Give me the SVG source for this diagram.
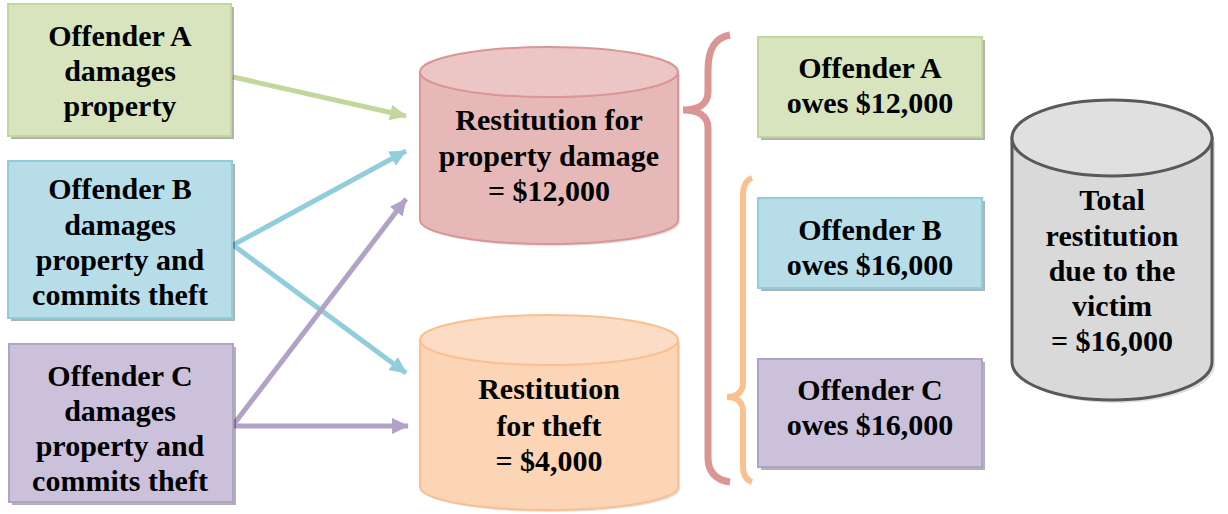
<svg xmlns="http://www.w3.org/2000/svg" width="1228" height="514" viewBox="0 0 1228 514">
<defs>
<style>
text{font-family:'Liberation Serif','Tinos','Times New Roman','DejaVu Serif',serif;font-weight:bold;font-size:30px;fill:#000;text-anchor:middle}
.sh{fill:#000;opacity:0.3}
.g{fill:#d7e4bd;stroke:#c3d69b;stroke-width:2}
.b{fill:#b7dde8;stroke:#92cddc;stroke-width:2}
.p{fill:#ccc1da;stroke:#b3a2c7;stroke-width:2}
.ln{fill:none;stroke-width:5}
</style>
<marker id="mg" markerUnits="userSpaceOnUse" markerWidth="18" markerHeight="18" refX="16" refY="9" orient="auto"><path d="M0,1 L17,9 L0,17 Z" fill="#c3d69b"/></marker>
<marker id="mb" markerUnits="userSpaceOnUse" markerWidth="18" markerHeight="18" refX="16" refY="9" orient="auto"><path d="M0,1 L17,9 L0,17 Z" fill="#92cddc"/></marker>
<marker id="mp" markerUnits="userSpaceOnUse" markerWidth="18" markerHeight="18" refX="16" refY="9" orient="auto"><path d="M0,1 L17,9 L0,17 Z" fill="#b2a2c7"/></marker>
</defs>
<rect width="1228" height="514" fill="#fff"/>

<g id="connectors">
<line class="ln" x1="233" y1="77" x2="406" y2="116" stroke="#c3d69b" marker-end="url(#mg)"/>
<line class="ln" x1="233" y1="245" x2="406" y2="151" stroke="#92cddc" marker-end="url(#mb)"/>
<line class="ln" x1="233" y1="245" x2="406" y2="373" stroke="#92cddc" marker-end="url(#mb)"/>
<line class="ln" x1="234" y1="424" x2="406" y2="199" stroke="#b2a2c7" marker-end="url(#mp)"/>
<line class="ln" x1="234" y1="426" x2="408" y2="426" stroke="#b2a2c7" marker-end="url(#mp)"/>
</g>

<g font-family="Liberation Serif, serif">
<g id="offenderA">
<rect class="sh" x="11" y="7" width="223" height="132"/>
<rect class="g" x="8" y="4" width="223" height="132"/>
<text x="120" y="46">Offender A</text>
<text x="120" y="81">damages</text>
<text x="120" y="116">property</text>
</g>

<g id="offenderB">
<rect class="sh" x="11" y="164" width="224" height="157"/>
<rect class="b" x="8" y="161" width="224" height="157"/>
<text x="120" y="199">Offender B</text>
<text x="120" y="235">damages</text>
<text x="120" y="270">property and</text>
<text x="120" y="305">commits theft</text>
</g>

<g id="offenderC">
<rect class="sh" x="12" y="347" width="224" height="158"/>
<rect class="p" x="9" y="344" width="224" height="158"/>
<text x="120" y="386">Offender C</text>
<text x="120" y="421">damages</text>
<text x="120" y="456">property and</text>
<text x="120" y="491">commits theft</text>
</g>

<g id="propertyDamage">
<path d="M422,74 L422,222 A129,24 0 0 0 680,222 L680,74 Z" fill="#000" opacity="0.12"/>
<path d="M420,72 L420,220 A129,24 0 0 0 678,220 L678,72 Z" fill="#e6b9b8" stroke="#d99694" stroke-width="2"/>
<ellipse cx="549" cy="72" rx="129" ry="25" fill="#ecc6c5" stroke="#d99694" stroke-width="2"/>
<text x="549" y="130">Restitution for</text>
<text x="549" y="166">property damage</text>
<text x="549" y="201">= $12,000</text>
</g>

<g id="theft">
<path d="M422,342 L422,489 A129,23 0 0 0 680,489 L680,342 Z" fill="#000" opacity="0.12"/>
<path d="M420,340 L420,487 A129,23 0 0 0 678,487 L678,340 Z" fill="#fbd5b5" stroke="#fac090" stroke-width="2"/>
<ellipse cx="549" cy="340" rx="129" ry="25" fill="#fcdcc4" stroke="#fac090" stroke-width="2"/>
<text x="549" y="399">Restitution</text>
<text x="549" y="436">for theft</text>
<text x="549" y="471">= $4,000</text>
</g>

<g id="braces">
<path d="M730,35 C714,38 708,50 708,70 L708,92 C708,104 698,110 683,110 C698,110 708,116 708,128 L708,458 C708,472 716,480 730,482" fill="none" stroke="#d99694" stroke-width="7"/>
<path d="M752,178 C746,180 743,186 743,196 L743,382 C743,392 737,397 727,397 C737,397 743,402 743,412 L743,466 C743,475 746,480 752,482" fill="none" stroke="#fac090" stroke-width="6"/>
</g>

<g id="owesA">
<rect class="sh" x="761" y="40" width="224" height="100"/>
<rect class="g" x="758" y="37" width="224" height="100"/>
<text x="870" y="78">Offender A</text>
<text x="870" y="113">owes $12,000</text>
</g>

<g id="owesB">
<rect class="sh" x="761" y="201" width="224" height="90"/>
<rect class="b" x="758" y="198" width="224" height="90"/>
<text x="870" y="240">Offender B</text>
<text x="870" y="275">owes $16,000</text>
</g>

<g id="owesC">
<rect class="sh" x="761" y="362" width="224" height="108"/>
<rect class="p" x="758" y="359" width="224" height="108"/>
<text x="870" y="400">Offender C</text>
<text x="870" y="435">owes $16,000</text>
</g>

<g id="total">
<path d="M1015,141 L1015,365 A100,38 0 0 0 1215,365 L1215,141 Z" fill="#000" opacity="0.12"/>
<path d="M1012,138 L1012,362 A100,38 0 0 0 1212,362 L1212,138 Z" fill="#d9d9d9" stroke="#595959" stroke-width="3"/>
<ellipse cx="1112" cy="138" rx="100" ry="38" fill="#e0e0e0" stroke="#595959" stroke-width="3"/>
<text x="1112" y="210">Total</text>
<text x="1112" y="246">restitution</text>
<text x="1112" y="281">due to the</text>
<text x="1112" y="316">victim</text>
<text x="1112" y="351">= $16,000</text>
</g>
</g>
</svg>
